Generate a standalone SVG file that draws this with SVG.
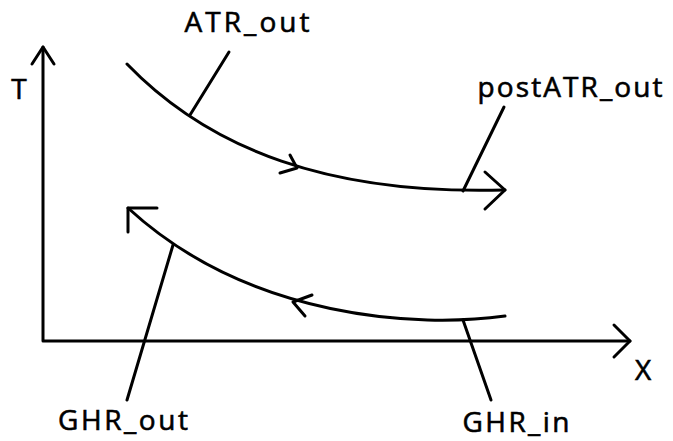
<svg xmlns="http://www.w3.org/2000/svg" width="673" height="441" viewBox="0 0 673 441">
<style>
.ln{fill:none;stroke:#000;stroke-width:3;stroke-linecap:round;stroke-linejoin:round}
.lbl{font-family:"Open Sans","Liberation Sans","DejaVu Sans",sans-serif;font-size:28px;fill:#000;stroke:#000;stroke-width:0.6}
</style>
<rect width="673" height="441" fill="#fff"/>
<g id="connectors">
<g id="axes">
<path class="ln" d="M43,47 L43,341 L630,341"/>
<path class="ln" d="M32,64 L43,47 L54,64"/>
<path class="ln" d="M614,325 L630,341 L614,357"/>
</g>
<g id="atr-curve">
<path class="ln" d="M127,64 C210,150 330,195 505,190"/>
<path class="ln" d="M290,155 L297,168 L280,173"/>
<path class="ln" d="M485,172 L505,190 L485,209"/>
</g>
<g id="ghr-curve">
<path class="ln" d="M505,316 C420,328 250,320 128,208"/>
<path class="ln" d="M312,295 L293,302 L305,316"/>
<path class="ln" d="M157,208 L128,208 L128,232"/>
</g>
<g id="leaders">
<path class="ln" d="M190,115 L229,52"/>
<path class="ln" d="M463,191 L504,107"/>
<path class="ln" d="M173,245 L127,400"/>
<path class="ln" d="M463,320 L491,400"/>
</g>
</g>
<g id="label-T"><text class="lbl" x="19" y="99" text-anchor="middle">T</text></g>
<g id="label-X"><text class="lbl" x="643" y="380" text-anchor="middle">X</text></g>
<g id="node-ATR_out"><text class="lbl" x="247" y="32" text-anchor="middle" textLength="125">ATR_out</text></g>
<g id="node-postATR_out"><text class="lbl" x="570" y="97" text-anchor="middle" textLength="185">postATR_out</text></g>
<g id="node-GHR_out"><text class="lbl" x="123" y="430" text-anchor="middle" textLength="130">GHR_out</text></g>
<g id="node-GHR_in"><text class="lbl" x="516" y="432" text-anchor="middle" textLength="107">GHR_in</text></g>
</svg>
